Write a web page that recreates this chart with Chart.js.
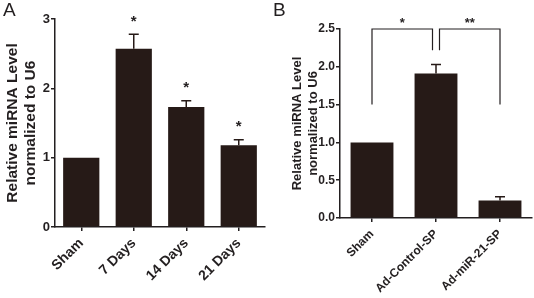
<!DOCTYPE html>
<html>
<head>
<meta charset="utf-8">
<script src="https://cdn.jsdelivr.net/npm/chart.js@4/dist/chart.umd.min.js"></script>
<style>
  body { margin: 0; background: #fff; }
  .wrap { display: flex; width: 534px; height: 298px; }
  .panel { position: relative; width: 267px; height: 298px; }
  .letter { position: absolute; top: -1px; font-family: 'Liberation Sans', Arial, sans-serif; font-size: 19px; color: #231f20; }
</style>
</head>
<body>
<div class="wrap">
  <div class="panel"><div class="letter" style="left:3px">A</div><canvas id="chartA" width="267" height="298"></canvas></div>
  <div class="panel"><div class="letter" style="left:6px">B</div><canvas id="chartB" width="267" height="298"></canvas></div>
</div>
<script>
// panel A
var catsA = ['Sham', '7 Days', '14 Days', '21 Days'];
var valsA = [1.0, 2.57, 1.73, 1.18];
var errA = [0, 0.21, 0.09, 0.08];
var starsA = ['', '*', '*', '*'];
var ticksA = [0, 1, 2, 3];

// panel B
var catsB = ['Sham', 'Ad-Control-SP', 'Ad-miR-21-SP'];
var valsB = [1.0, 1.91, 0.23];
var errB = [0, 0.12, 0.05];
var ticksB = [0, 0.5, 1.0, 1.5, 2.0, 2.5];
// significance brackets: from bar, to bar, label, low end at "from", low end at "to"
var compFrom = [0, 1];
var compTo = [1, 2];
var compLabel = ['*', '**'];
var compFromLow = [1.5, 2.22];
var compToLow = [2.22, 1.5];
var compTop = 2.5;

const ink = '#231f20';
const barColor = '#261a17';
const fontFam = "'Liberation Sans', Arial, sans-serif";

const errorBars = {
  id: 'errorBars',
  afterDatasetsDraw(chart, args, opts) {
    const ctx = chart.ctx;
    const meta = chart.getDatasetMeta(0);
    const y = chart.scales.y;
    ctx.save();
    ctx.strokeStyle = barColor;
    ctx.lineWidth = 1.5;
    ctx.fillStyle = ink;
    ctx.font = 'bold ' + opts.starSize + 'px ' + fontFam;
    ctx.textAlign = 'center';
    ctx.textBaseline = 'alphabetic';
    opts.values.forEach(function(v, i) {
      const e = opts.errors[i];
      const x = meta.data[i].x;
      const top = y.getPixelForValue(v + e);
      if (e > 0) {
        ctx.beginPath();
        ctx.moveTo(x, y.getPixelForValue(v));
        ctx.lineTo(x, top);
        ctx.moveTo(x - 5, top);
        ctx.lineTo(x + 5, top);
        ctx.stroke();
      }
      if (opts.stars && opts.stars[i]) {
        ctx.fillText(opts.stars[i], x, top - 17 + opts.starSize * 0.57);
      }
    });
    if (opts.brackets) {
      ctx.strokeStyle = ink;
      ctx.lineWidth = 1.2;
      const yt = y.getPixelForValue(compTop);
      compFrom.forEach(function(f, k) {
        const t = compTo[k];
        let x1 = meta.data[f].x, x2 = meta.data[t].x;
        if (k === 0) x2 -= 3.5; else x1 += 3.5;
        ctx.beginPath();
        ctx.moveTo(x1, y.getPixelForValue(compFromLow[k]));
        ctx.lineTo(x1, yt);
        ctx.lineTo(x2, yt);
        ctx.lineTo(x2, y.getPixelForValue(compToLow[k]));
        ctx.stroke();
        ctx.fillText(compLabel[k], (x1 + x2) / 2, yt - 9 + opts.starSize * 0.57);
      });
    }
    ctx.restore();
  }
};

function makeChart(id, cats, vals, errs, stars, ticks, box, f, barPct, decimals, brackets) {
  return new Chart(document.getElementById(id), {
    type: 'bar',
    data: {
      labels: cats,
      datasets: [{
        data: vals,
        backgroundColor: barColor,
        borderWidth: 0,
        barPercentage: barPct,
        categoryPercentage: 1
      }]
    },
    plugins: [errorBars],
    options: {
      responsive: false,
      animation: false,
      events: [],
      layout: { padding: { left: 0, top: box.top, right: box.right, bottom: 0 } },
      plugins: {
        legend: { display: false },
        tooltip: { enabled: false },
        errorBars: { values: vals, errors: errs, stars: stars, brackets: brackets, starSize: f.star }
      },
      scales: {
        x: {
          afterFit: function(s) { s.height = 298 - box.bottom; },
          grid: { display: true, drawOnChartArea: false, drawTicks: true, tickLength: 4, offset: false, color: ink, lineWidth: 1.5 },
          border: { display: true, color: ink, width: 1.5 },
          ticks: {
            minRotation: 45, maxRotation: 45, padding: f.xPad,
            color: ink, font: { family: fontFam, size: f.x, weight: 'bold' }
          }
        },
        y: {
          min: ticks[0],
          max: ticks[ticks.length - 1],
          afterFit: function(s) { s.width = box.left; },
          afterBuildTicks: function(s) { s.ticks = ticks.map(function(v) { return { value: v }; }); },
          grid: { display: true, drawOnChartArea: false, drawTicks: true, tickLength: 4, color: ink, lineWidth: 1.5 },
          border: { display: true, color: ink, width: 1.5 },
          ticks: {
            padding: 1,
            color: ink,
            font: { family: fontFam, size: f.y, weight: 'bold' },
            callback: function(v) { return Number(v).toFixed(decimals); }
          },
          title: {
            display: true,
            text: ['Relative miRNA Level', 'normalized to U6'],
            color: ink,
            font: { family: fontFam, size: f.title, weight: 'bold', lineHeight: f.lh },
            padding: { top: box.titlePad, bottom: 0 }
          }
        }
      }
    }
  });
}

makeChart('chartA', catsA, valsA, errA, starsA, ticksA,
  { left: 55, top: 19, right: 2, bottom: 227, titlePad: 3.5 },
  { x: 14, y: 13, title: 15.5, lh: 1.15, star: 15, xPad: 4 }, 0.69, 0, false);
makeChart('chartB', catsB, valsB, errB, null, ticksB,
  { left: 73, top: 29, right: 2, bottom: 218, titlePad: 22 },
  { x: 12, y: 12, title: 13, lh: 1.25, star: 13, xPad: 5 }, 0.67, 1, true);
</script>
</body>
</html>
